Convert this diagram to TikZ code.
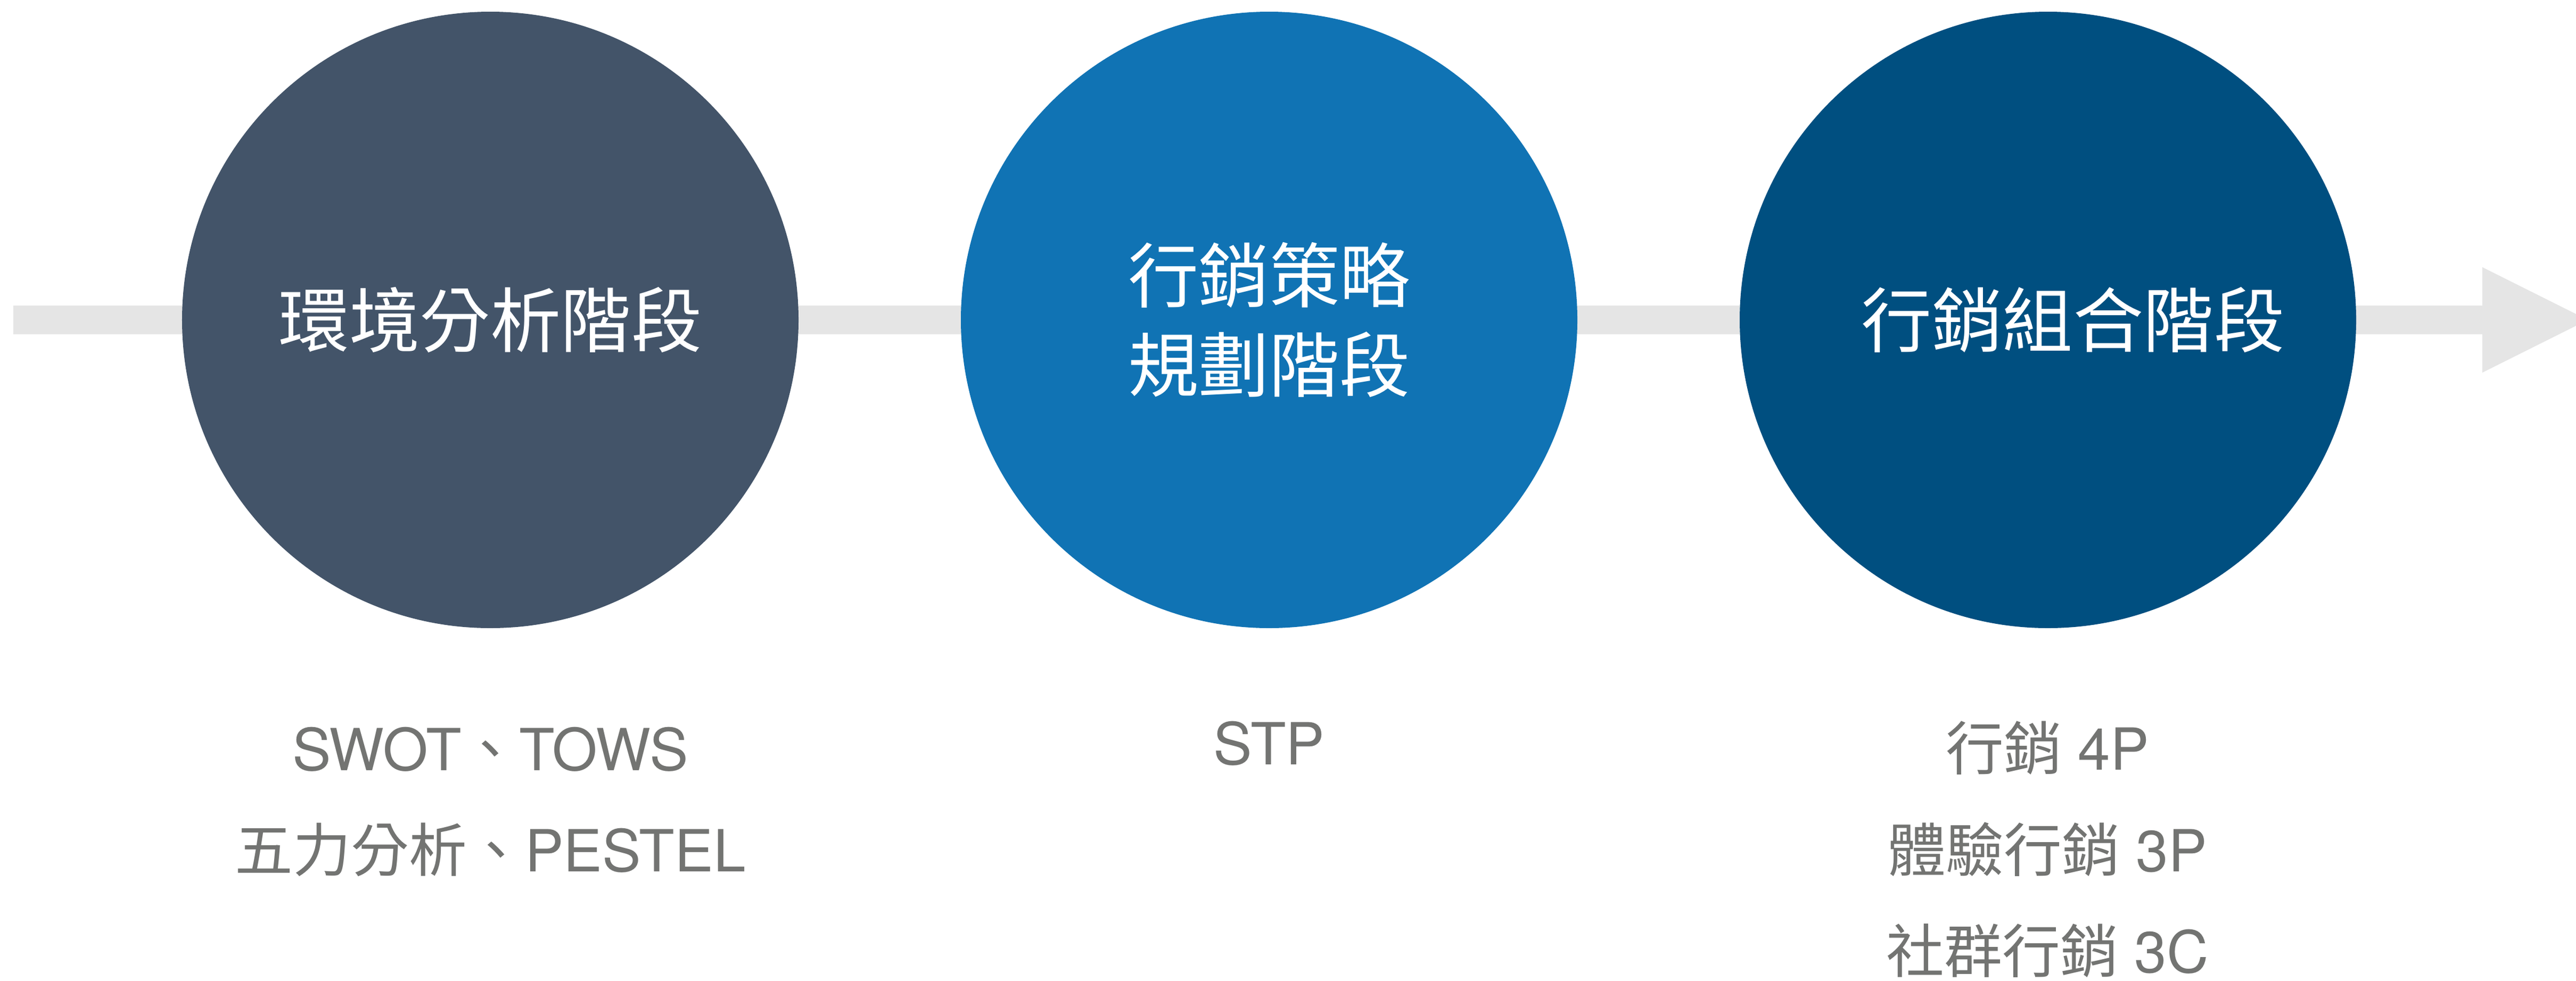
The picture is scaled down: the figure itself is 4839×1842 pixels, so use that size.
\documentclass[tikz,border=0pt]{standalone}
\usepackage{fontspec}
\setmainfont{TeX Gyre Heros}
\newfontfamily\cjk{Noto Sans CJK TC}
\definecolor{barcol}{HTML}{E5E5E5}
\definecolor{stageA}{HTML}{435469}
\definecolor{stageB}{HTML}{1073B4}
\definecolor{stageC}{HTML}{004F80}
\definecolor{notecol}{HTML}{737472}
\begin{document}
\begin{tikzpicture}[x=0.2pt,y=-0.2pt,
  stage/.style={circle,minimum size=231.6pt,inner sep=0pt,text=white,align=center,
    font=\cjk\fontsize{26.5}{33.6}\selectfont},
  note/.style={anchor=base,text=notecol,inner sep=0pt,font=\fontsize{21.8}{25}\selectfont}]
\useasboundingbox (0,0) rectangle (4839,1842);
\clip (0,0) rectangle (4839,1842);
% background arrow
\coordinate (barstart) at (25,601);
\coordinate (headbase) at (4663,601);
\coordinate (headtop) at (4663,502);
\coordinate (headbot) at (4663,700);
\coordinate (tip) at (4861,601);
\draw[barcol,line width=10.8pt] (barstart) -- (headbase);
\fill[barcol] (headtop) -- (tip) -- (headbot) -- cycle;
% stages
\node[stage,fill=stageA] (s1) at (921,601) {環境分析階段};
\node[stage,fill=stageB] (s2) at (2384,601) {行銷策略\\規劃階段};
\node[stage,fill=stageC] (s3) at (3847,601) {\hspace*{18.8pt}行銷組合階段};
% notes
\node[note] (n1a) at (921,1447) {SWOT{\cjk 、}TOWS};
\node[note] (n1b) at (921,1637) {{\cjk 五力分析、}PESTEL};
\node[note] (n2a) at (2384,1436) {STP};
\node[note] (n3a) at (3846,1446) {{\cjk 行銷} 4P};
\node[note] (n3b) at (3846,1637) {{\cjk 體驗行銷} 3P};
\node[note] (n3c) at (3846,1827) {{\cjk 社群行銷} 3C};
\end{tikzpicture}
\end{document}
